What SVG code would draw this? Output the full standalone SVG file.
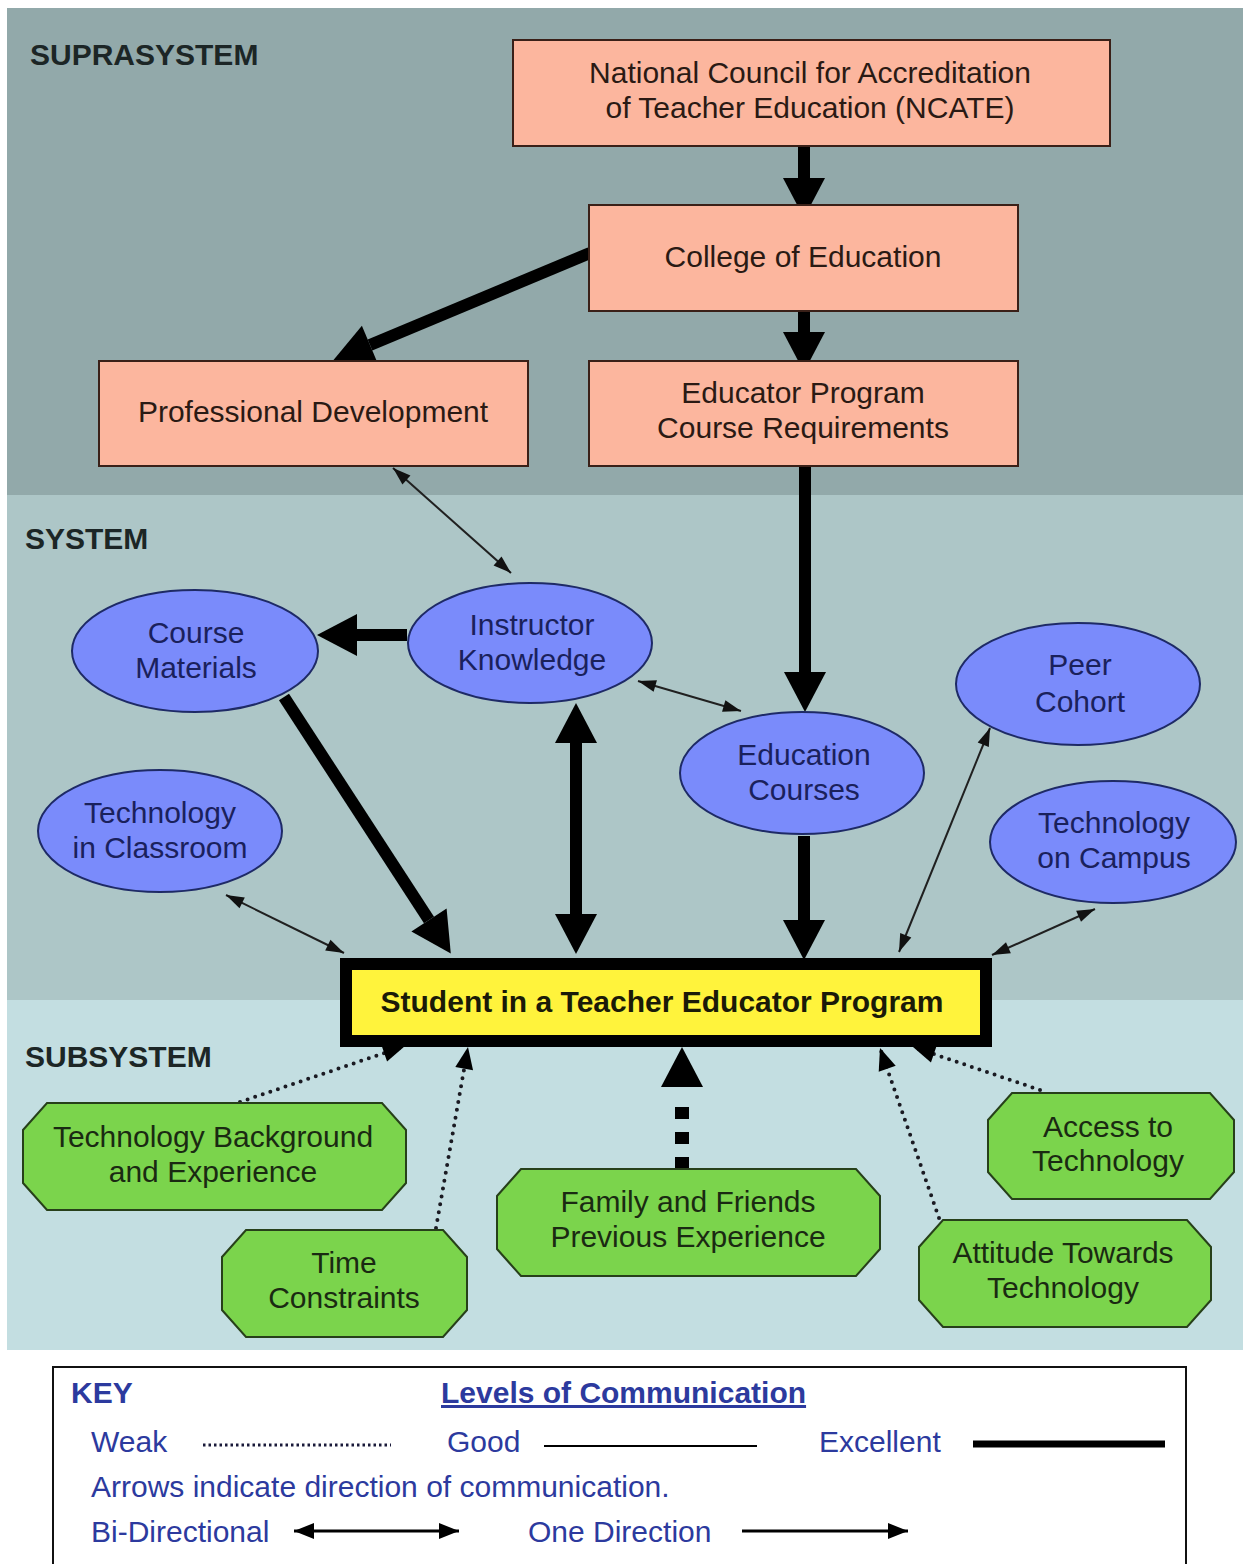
<svg xmlns="http://www.w3.org/2000/svg" width="1250" height="1564" viewBox="0 0 1250 1564">
<style>
text{font-family:"Liberation Sans",Arial,sans-serif;font-size:30px;text-anchor:middle}
.lbl{font-weight:bold;fill:#1c2626;text-anchor:start}
.box{fill:#fcb69e;stroke:#3a2018;stroke-width:2}
.boxt{fill:#2a1a14}
.ell{fill:#7a8bfb;stroke:#1e2a66;stroke-width:2}
.ellt{fill:#1a215c}
.oct{fill:#7bd44c;stroke:#27401a;stroke-width:2}
.octt{fill:#1a2a12}
.ex{fill:none;stroke:#000;stroke-width:12;marker-end:url(#mThick)}
.gd{fill:none;stroke:#202020;stroke-width:2;marker-start:url(#mThin);marker-end:url(#mThin)}
.wk{fill:none;stroke:#1a1a22;stroke-width:4;stroke-dasharray:0 8;stroke-linecap:round;marker-end:url(#mDot)}
.key{fill:#2c3a9e;text-anchor:start}
</style>
<defs>
<marker id="mThick" markerUnits="userSpaceOnUse" markerWidth="40" markerHeight="42" refX="0" refY="21" orient="auto-start-reverse" overflow="visible"><path d="M0,0 L40,21 L0,42 z" fill="#000"/></marker>
<marker id="mThin" markerUnits="userSpaceOnUse" markerWidth="18" markerHeight="12" refX="18" refY="6" orient="auto-start-reverse" overflow="visible"><path d="M0,0 L18,6 L0,12 z" fill="#111"/></marker>
<marker id="mDot" markerUnits="userSpaceOnUse" markerWidth="22" markerHeight="18" refX="22" refY="9" orient="auto" overflow="visible"><path d="M0,0 L22,9 L0,18 z" fill="#000"/></marker>
<marker id="mKey" markerUnits="userSpaceOnUse" markerWidth="20" markerHeight="16" refX="20" refY="8" orient="auto-start-reverse" overflow="visible"><path d="M0,0 L20,8 L0,16 z" fill="#000"/></marker>
</defs>
<rect width="1250" height="1564" fill="#fff"/>
<g id="bands">
<rect x="7" y="8" width="1236" height="487" fill="#92a9aa"/>
<rect x="7" y="495" width="1236" height="505" fill="#adc6c7"/>
<rect x="7" y="1000" width="1236" height="350" fill="#c3dee1"/>
<text class="lbl" x="30" y="65">SUPRASYSTEM</text>
<text class="lbl" x="25" y="549">SYSTEM</text>
<text class="lbl" x="25" y="1067">SUBSYSTEM</text>
</g>
<g id="connectors">
<path class="ex" d="M804,146 L804,178"/>
<path class="ex" d="M804,311 L804,332"/>
<path class="ex" d="M590,253 L370,345"/>
<path class="ex" d="M805,466 L805,672"/>
<path class="ex" d="M804,836 L804,920"/>
<path class="ex" d="M407,635 L357,635"/>
<path class="ex" d="M284,697 L429,920"/>
<path class="ex" d="M576,743 L576,914" style="marker-start:url(#mThick)"/>
<path class="gd" d="M393,468 L511,573"/>
<path class="gd" d="M638,681 L741,711"/>
<path class="gd" d="M226,895 L344,953"/>
<path class="gd" d="M990,728 L899,952"/>
<path class="gd" d="M1095,909 L992,955"/>
<path class="wk" d="M240,1102 L405,1046"/>
<path class="wk" d="M436,1228 L468,1047"/>
<path class="wk" d="M939,1218 L880,1048"/>
<path class="wk" d="M1040,1090 L913,1047"/>
<path d="M682,1169 L682,1087" fill="none" stroke="#000" stroke-width="14" stroke-dasharray="12 13 12 13 12 20" marker-end="url(#mThick)"/>
</g>
<g id="ncate">
<rect class="box" x="513" y="40" width="597" height="106"/>
<text class="boxt" x="810" y="83">National Council for Accreditation</text>
<text class="boxt" x="810" y="118">of Teacher Education (NCATE)</text>
</g>
<g id="college">
<rect class="box" x="589" y="205" width="429" height="106"/>
<text class="boxt" x="803" y="267">College of Education</text>
</g>
<g id="profdev">
<rect class="box" x="99" y="361" width="429" height="105"/>
<text class="boxt" x="313" y="422">Professional Development</text>
</g>
<g id="requirements">
<rect class="box" x="589" y="361" width="429" height="105"/>
<text class="boxt" x="803" y="403">Educator Program</text>
<text class="boxt" x="803" y="438">Course Requirements</text>
</g>
<g id="coursematerials">
<ellipse class="ell" cx="195" cy="651" rx="123" ry="61"/>
<text class="ellt" x="196" y="643">Course</text>
<text class="ellt" x="196" y="678">Materials</text>
</g>
<g id="instructor">
<ellipse class="ell" cx="530" cy="643" rx="122" ry="60"/>
<text class="ellt" x="532" y="635">Instructor</text>
<text class="ellt" x="532" y="670">Knowledge</text>
</g>
<g id="educourses">
<ellipse class="ell" cx="802" cy="773" rx="122" ry="61"/>
<text class="ellt" x="804" y="765">Education</text>
<text class="ellt" x="804" y="800">Courses</text>
</g>
<g id="peer">
<ellipse class="ell" cx="1078" cy="684" rx="122" ry="61"/>
<text class="ellt" x="1080" y="675">Peer</text>
<text class="ellt" x="1080" y="712">Cohort</text>
</g>
<g id="techclass">
<ellipse class="ell" cx="160" cy="831" rx="122" ry="61"/>
<text class="ellt" x="160" y="823">Technology</text>
<text class="ellt" x="160" y="858">in Classroom</text>
</g>
<g id="techcampus">
<ellipse class="ell" cx="1113" cy="842" rx="123" ry="61"/>
<text class="ellt" x="1114" y="833">Technology</text>
<text class="ellt" x="1114" y="868">on Campus</text>
</g>
<g id="student">
<rect x="346" y="964" width="640" height="77" fill="#fff33c" stroke="#000" stroke-width="12"/>
<text x="662" y="1012" font-weight="bold" fill="#1a1a08">Student in a Teacher Educator Program</text>
</g>
<g id="techbg">
<polygon class="oct" points="47,1103 382,1103 406,1130 406,1183 382,1210 47,1210 23,1183 23,1130"/>
<text class="octt" x="213" y="1147">Technology Background</text>
<text class="octt" x="213" y="1182">and Experience</text>
</g>
<g id="time">
<polygon class="oct" points="246,1230 443,1230 467,1257 467,1310 443,1337 246,1337 222,1310 222,1257"/>
<text class="octt" x="344" y="1273">Time</text>
<text class="octt" x="344" y="1308">Constraints</text>
</g>
<g id="family">
<polygon class="oct" points="521,1169 856,1169 880,1196 880,1249 856,1276 521,1276 497,1249 497,1196"/>
<text class="octt" x="688" y="1212">Family and Friends</text>
<text class="octt" x="688" y="1247">Previous Experience</text>
</g>
<g id="access">
<polygon class="oct" points="1012,1093 1210,1093 1234,1120 1234,1172 1210,1199 1012,1199 988,1172 988,1120"/>
<text class="octt" x="1108" y="1137">Access to</text>
<text class="octt" x="1108" y="1171">Technology</text>
</g>
<g id="attitude">
<polygon class="oct" points="943,1220 1187,1220 1211,1247 1211,1300 1187,1327 943,1327 919,1300 919,1247"/>
<text class="octt" x="1063" y="1263">Attitude Towards</text>
<text class="octt" x="1063" y="1298">Technology</text>
</g>
<g id="key">
<rect x="53" y="1367" width="1133" height="230" fill="#fff" stroke="#111" stroke-width="2"/>
<text class="key" x="71" y="1403" font-weight="bold">KEY</text>
<text class="key" x="441" y="1403" font-weight="bold" text-decoration="underline">Levels of Communication</text>
<text class="key" x="91" y="1452">Weak</text>
<line x1="203" y1="1445" x2="391" y2="1445" stroke="#1a1a3a" stroke-width="3" stroke-dasharray="2.5 3"/>
<text class="key" x="447" y="1452">Good</text>
<line x1="544" y1="1446" x2="757" y2="1446" stroke="#000" stroke-width="2"/>
<text class="key" x="819" y="1452">Excellent</text>
<line x1="973" y1="1444" x2="1165" y2="1444" stroke="#000" stroke-width="7"/>
<text class="key" x="91" y="1497">Arrows indicate direction of communication.</text>
<text class="key" x="91" y="1542">Bi-Directional</text>
<line x1="294" y1="1531" x2="459" y2="1531" stroke="#000" stroke-width="3" marker-start="url(#mKey)" marker-end="url(#mKey)"/>
<text class="key" x="528" y="1542">One Direction</text>
<line x1="742" y1="1531" x2="908" y2="1531" stroke="#000" stroke-width="3" marker-end="url(#mKey)"/>
</g>
</svg>
